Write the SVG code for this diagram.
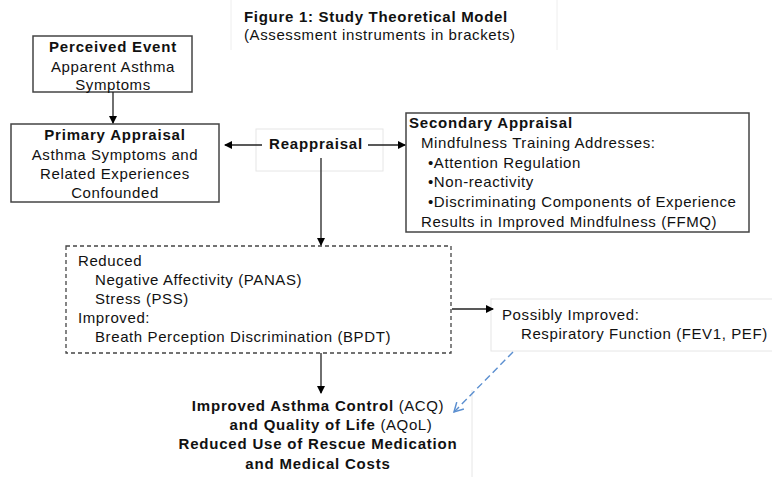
<svg xmlns="http://www.w3.org/2000/svg" width="772" height="477" viewBox="0 0 772 477">
<defs>
<marker id="ah" markerWidth="8" markerHeight="8" refX="7" refY="4" orient="auto" markerUnits="userSpaceOnUse"><path d="M0,0 L8,4 L0,8 z" fill="#000"/></marker>
<marker id="ahb" markerWidth="12" markerHeight="12" refX="10" refY="6" orient="auto" markerUnits="userSpaceOnUse"><path d="M1,1 L10,6 L1,11" fill="none" stroke="#5b8fd0" stroke-width="1.5"/></marker>
</defs>
<style>
text{font-family:"Liberation Sans",Arial,sans-serif;font-size:15px;fill:#111;letter-spacing:0.6px}
.b{font-weight:bold;letter-spacing:0.8px}
.c{text-anchor:middle}
.box{fill:#fff;stroke:#444;stroke-width:1.5}
.faint{fill:#fff;stroke:#e6e6e6;stroke-width:1}
.ln{stroke:#222;stroke-width:1.3;fill:none}
</style>
<rect width="772" height="477" fill="#fff"/>
<g id="title">
<line x1="231" y1="0" x2="231" y2="50" stroke="#eee"/>
<line x1="557" y1="0" x2="557" y2="50" stroke="#eee"/>
<text x="244" y="22" class="b" style="letter-spacing:0.7px">Figure 1: Study Theoretical Model</text>
<text x="244" y="40">(Assessment instruments in brackets)</text>
</g>
<g id="perceived">
<rect class="box" x="33" y="36" width="159" height="56"/>
<text x="113" y="52" class="b c">Perceived Event</text>
<text x="113" y="72" class="c">Apparent Asthma</text>
<text x="113" y="90" class="c">Symptoms</text>
</g>
<g id="primary">
<rect class="box" x="11" y="124" width="208" height="78"/>
<text x="115" y="140" class="b c">Primary Appraisal</text>
<text x="115" y="160" class="c">Asthma Symptoms and</text>
<text x="115" y="179" class="c">Related Experiences</text>
<text x="115" y="198" class="c">Confounded</text>
</g>
<g id="reappraisal">
<rect class="faint" x="256" y="129" width="127" height="42"/>
<text x="316" y="149" class="b c">Reappraisal</text>
</g>
<g id="secondary">
<rect class="box" x="406" y="113" width="343" height="119"/>
<text x="409" y="128" class="b">Secondary Appraisal</text>
<text x="421" y="148">Mindfulness Training Addresses:</text>
<text x="428" y="168">•Attention Regulation</text>
<text x="428" y="187">•Non-reactivity</text>
<text x="428" y="207">•Discriminating Components of Experience</text>
<text x="421" y="227">Results in Improved Mindfulness (FFMQ)</text>
</g>
<g id="reduced">
<rect x="66" y="246" width="385" height="107" fill="#fff" stroke="#444" stroke-width="1.3" stroke-dasharray="4,3"/>
<text x="78" y="266">Reduced</text>
<text x="95" y="285">Negative Affectivity (PANAS)</text>
<text x="95" y="304">Stress (PSS)</text>
<text x="78" y="323">Improved:</text>
<text x="95" y="342">Breath Perception Discrimination (BPDT)</text>
</g>
<g id="possibly">
<rect class="faint" x="491" y="299" width="290" height="52"/>
<text x="502" y="320">Possibly Improved:</text>
<text x="521" y="339">Respiratory Function (FEV1, PEF)</text>
</g>
<g id="outcome">
<line x1="472" y1="390" x2="472" y2="477" stroke="#e6e6e6"/>
<text x="318" y="411" class="c"><tspan class="b">Improved Asthma Control</tspan> (ACQ)</text>
<text x="331" y="430" class="c"><tspan class="b">and Quality of Life</tspan> (AQoL)</text>
<text x="318" y="449" class="b c">Reduced Use of Rescue Medication</text>
<text x="318" y="469" class="b c">and Medical Costs</text>
</g>
<g id="connectors">
<line class="ln" x1="113" y1="92" x2="113" y2="123" marker-end="url(#ah)"/>
<line class="ln" x1="262" y1="145" x2="225" y2="145" marker-end="url(#ah)"/>
<line class="ln" x1="368" y1="145" x2="405" y2="145" marker-end="url(#ah)"/>
<line class="ln" x1="321" y1="158" x2="321" y2="245" marker-end="url(#ah)"/>
<line class="ln" x1="452" y1="309" x2="493" y2="309" marker-end="url(#ah)"/>
<line class="ln" x1="321" y1="353" x2="321" y2="393" marker-end="url(#ah)"/>
<line x1="513" y1="352" x2="454" y2="412" stroke="#5b8fd0" stroke-width="1.4" stroke-dasharray="7,4" marker-end="url(#ahb)"/>
</g>
</svg>
